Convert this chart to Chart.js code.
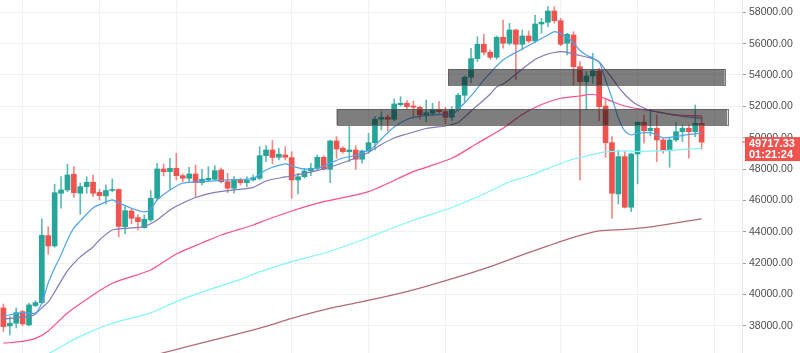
<!DOCTYPE html>
<html>
<head>
<meta charset="utf-8">
<script src="https://cdn.jsdelivr.net/npm/chart.js@4"></script>
<style>
  html, body { margin: 0; padding: 0; background: #ffffff; }
  #wrap { width: 800px; height: 353px; position: relative; }
</style>
</head>
<body>
<div id="wrap"><canvas id="c" width="800" height="353"></canvas></div>
<script>
// ---- DATA ----
const opens  = [39135,37987,38158,38899,38050,39282,39473,43748,43090,46453,46663,47665,46453,46874,47154,46516,46280,46631,46695,44322,45323,44896,44258,44749,46133,48003,47831,48047,47575,47409,47684,47129,47301,47346,47939,47193,46771,47301,47129,47301,47409,48851,49215,48749,48896,48724,47301,47512,47894,48047,48749,47984,49789,49324,49107,49215,48622,49151,49681,51174,51301,51174,52105,52195,52022,51939,51448,51556,51812,51659,51301,51812,52705,53853,55040,55959,55448,55129,56405,56022,56871,55959,56488,56169,57254,57362,58083,57464,56022,56552,54530,53573,53936,54255,52022,49681,46408,48788,45559,48960,50982,50446,50599,49853,49170,49853,50383,50599,50383,50918];
const highs  = [39390,38580,39135,38962,39434,39600,44813,44322,47027,47512,48303,48150,47091,47512,47620,46708,46982,47365,46727,45598,45495,45068,45068,46618,48366,48322,48685,49004,47684,48111,48258,47984,48150,48214,48067,47729,47512,47429,47512,47620,49426,49489,49821,49324,49426,49107,47729,48047,48366,48896,48851,49853,50064,49426,50746,49489,49215,50280,51340,51659,51448,52469,52616,52360,52341,52022,52405,52195,52297,51939,51978,52832,53936,55704,56444,56597,55595,56488,57509,57298,56916,56871,56807,57828,57617,58358,58358,57617,56660,56763,54849,54210,55384,54427,52405,50064,49215,49107,49004,51021,51448,51812,51448,49961,49961,50957,50810,50810,52086,51340];
const lows   = [37623,37412,37859,38005,37987,39218,39390,42561,43007,45495,46555,46197,45113,46453,46236,46025,45770,46535,43664,43856,44494,44111,44220,44641,46025,47556,46708,47301,47173,47129,46236,46982,47193,47301,47110,46491,46453,46982,46874,47237,47301,48469,48322,48577,48577,46133,46408,47409,47575,47939,47939,47129,48685,49004,48469,47984,48366,49004,49215,50491,50427,51085,52022,51812,51340,51174,51021,51448,51556,50874,51085,51703,52297,53509,54849,55276,55002,55002,55704,55914,53681,55595,56061,56061,56660,57082,57298,55869,55276,53362,47301,51767,53470,51085,48749,44857,45770,45515,45279,47046,49642,50108,48469,49004,48111,49744,49744,48685,50064,49260];
const closes = [37942,38158,38835,38114,39326,39473,43773,43090,46491,46663,47620,46491,46874,47154,46453,46299,46631,46695,44334,45342,44857,44641,44794,46133,48003,47831,48047,47575,47409,47684,47129,47346,47409,47894,47193,46771,47301,47129,47301,47448,48851,49215,48736,48941,48749,47301,47512,47875,48047,48749,47984,49789,49279,49107,49215,48622,49151,49681,51174,51301,51174,52150,52195,51978,51939,51448,51595,51812,51659,51301,51812,52705,53853,55040,55959,55448,55129,56405,56022,56871,55959,56488,56169,57254,57362,58083,57464,55959,56597,54530,53573,53936,54255,51978,49681,46453,48788,45559,48960,50982,50446,50599,49853,49170,49853,50383,50599,50383,50918,49717.33];

// moving averages: [candle number, value]
const maFast = [[1,38624],[4,38816],[6,38816],[7,39454],[8,40730],[9,41687],[10,42516],[11,43473],[12,44239],[13,44685],[15,45515],[17,45898],[18,46025],[19,45834],[21,45495],[23,45259],[24,45451],[25,46025],[27,46663],[29,47091],[32,47193],[36,47301],[40,47409],[42,47939],[45,48322],[46,48194],[48,48003],[50,48047],[52,48386],[54,48705],[56,48864],[58,49215],[59,49470],[60,49917],[62,50683],[64,51161],[66,51353],[68,51448],[70,51480],[71,51448],[72,51831],[73,52214],[74,52660],[75,53171],[76,53681],[77,54128],[78,54574],[79,54957],[80,55212],[82,55659],[84,56105],[86,56552],[87,56763],[88,56648],[89,56424],[90,56042],[91,55563],[92,55276],[93,55085],[94,54829],[95,53681],[96,52533],[97,51257],[98,50427],[99,50172],[100,50281],[102,50319],[103,50172],[104,49981],[106,50076],[108,50204],[110,50281]];
const maMid = [[1,38433],[5,38593],[6,38752],[7,39135],[8,39518],[9,40155],[11,41495],[13,42389],[15,43027],[16,43473],[18,44111],[21,44239],[23,44334],[25,44749],[27,45387],[29,45834],[31,46184],[34,46504],[37,46663],[40,46823],[42,47237],[45,47492],[48,47716],[51,48003],[53,48258],[56,48705],[58,49055],[60,49566],[62,49981],[64,50236],[67,50587],[70,50746],[71,50842],[72,50970],[73,51320],[74,51703],[75,52054],[76,52405],[77,52788],[78,53235],[79,53426],[80,53713],[82,54383],[84,54989],[86,55340],[87,55436],[88,55487],[89,55448],[90,55340],[91,55244],[92,55149],[93,55053],[94,54829],[95,54319],[96,53809],[97,53235],[98,52756],[99,52373],[100,52086],[102,51735],[104,51576],[106,51416],[108,51320],[110,51238]];
const ma50 = [[1,36883],[4,36998],[6,37189],[8,37667],[11,38816],[15,39964],[18,40711],[24,41559],[28,42580],[32,43282],[35,43792],[40,44430],[42,44749],[46,45323],[51,45917],[58,46555],[65,47831],[71,48685],[75,49642],[79,50600],[82,51480],[85,52118],[88,52514],[91,52660],[93,52769],[94,52660],[96,52309],[98,52022],[100,51850],[102,51722],[104,51576],[106,51461],[110,51384]];
const ma100 = [[8,36200],[11,36902],[14,37508],[18,38159],[24,38816],[28,39536],[33,40283],[38,40955],[41,41431],[46,42088],[51,42625],[57,43473],[64,44589],[71,45546],[76,46408],[80,47174],[83,47556],[86,48035],[89,48513],[92,48832],[95,49088],[98,49151],[100,49120],[103,49151],[106,49215],[110,49311]];
const ma200 = [[25,36168],[32,36902],[37,37412],[42,37955],[46,38465],[51,39007],[57,39537],[64,40175],[72,41112],[77,41769],[82,42516],[86,43091],[90,43633],[94,44047],[98,44143],[102,44302],[106,44558],[110,44813]];

// grey zones: [from candle, to candle, low price, high price]
const zones = [[70.4, 113.6, 53362, 54383],[53.0, 114.0, 50810, 51831]];
// vertical grid positions (candle numbers)
const timeGrid = [4,16,28,46,58,70,88,100,112];
const priceTicks = [38000,40000,42000,44000,46000,48000,50000,52000,54000,56000,58000];
const lastPriceText = '49717.33';
const countdownText = '01:21:24';

// ---- CHART ----
const UP = '#26a69a', DOWN = '#ef5350';
const UPW = 'rgba(38,166,154,0.75)', DOWNW = 'rgba(239,83,80,0.7)';
const n = closes.length;
const idx = Array.from({length: n}, (_, i) => i + 1);
const isUp = i => closes[i] >= opens[i];

const wickData = idx.map((k, i) => ({x: k, y: [lows[i], highs[i]]}));
const bodyData = idx.map((k, i) => ({x: k, y: [opens[i], closes[i]]}));
const toXY = arr => arr.map(p => ({x: p[0], y: p[1]}));

const zonePlugin = {
  id: 'zones',
  afterDatasetsDraw(chart) {
    const {ctx, chartArea, scales: {x, y}} = chart;
    ctx.save();
    ctx.beginPath();
    ctx.rect(chartArea.left, chartArea.top, chartArea.right - chartArea.left, chartArea.bottom - chartArea.top);
    ctx.clip();
    zones.forEach(z => {
      const x1 = x.getPixelForValue(z[0]), x2 = x.getPixelForValue(z[1]);
      const y1 = y.getPixelForValue(z[3]), y2 = y.getPixelForValue(z[2]);
      ctx.fillStyle = 'rgba(20,20,20,0.55)';
      ctx.fillRect(x1, y1, x2 - x1, y2 - y1);
      ctx.strokeStyle = 'rgba(90,90,90,0.8)';
      ctx.lineWidth = 1;
      ctx.strokeRect(Math.round(x1) + 0.5, Math.round(y1) + 0.5, Math.round(x2 - x1), Math.round(y2 - y1));
    });
    ctx.restore();
  }
};

const priceLabelPlugin = {
  id: 'priceLabel',
  afterDraw(chart) {
    const {ctx, chartArea, scales: {y}} = chart;
    const py = y.getPixelForValue(closes[n - 1]);
    const left = chartArea.right + 3;
    ctx.save();
    ctx.fillStyle = DOWN;
    ctx.fillRect(left, py - 5, 800 - left, 24);
    ctx.fillRect(chartArea.right, Math.round(py) - 0.5, 4, 1);
    ctx.fillStyle = '#ffffff';
    ctx.font = 'bold 11px "Liberation Sans", Arial, sans-serif';
    ctx.textAlign = 'left';
    ctx.textBaseline = 'middle';
    ctx.fillText(lastPriceText, left + 4, py + 2);
    ctx.fillText(countdownText, left + 4, py + 13);
    ctx.restore();
  }
};

new Chart(document.getElementById('c'), {
  type: 'bar',
  data: {
    datasets: [
      {type: 'line', label: 'MA fast', data: toXY(maFast), borderColor: '#4ea3ee', borderWidth: 1.2, pointRadius: 0, tension: 0.25, order: 0},
      {type: 'line', label: 'MA mid', data: toXY(maMid), borderColor: '#7f7bb8', borderWidth: 1.2, pointRadius: 0, tension: 0.25, order: 0},
      {type: 'line', label: 'MA 50', data: toXY(ma50), borderColor: '#ff4d8d', borderWidth: 1.2, pointRadius: 0, tension: 0.25, order: 0},
      {type: 'line', label: 'MA 100', data: toXY(ma100), borderColor: '#7ff5fb', borderWidth: 1.2, pointRadius: 0, tension: 0.25, order: 0},
      {type: 'line', label: 'MA 200', data: toXY(ma200), borderColor: '#b26a73', borderWidth: 1.2, pointRadius: 0, tension: 0.25, order: 0},
      {label: 'bodies', data: bodyData, barThickness: 5, minBarLength: 1, grouped: false, order: 1,
       backgroundColor: ctx => isUp(ctx.dataIndex) ? UP : DOWN},
      {label: 'wicks', data: wickData, barThickness: 1, grouped: false, order: 2,
       backgroundColor: ctx => isUp(ctx.dataIndex) ? UPW : DOWNW}
    ]
  },
  options: {
    responsive: false,
    animation: false,
    events: [],
    layout: {padding: 0},
    plugins: {legend: {display: false}, tooltip: {enabled: false}},
    scales: {
      x: {
        type: 'linear', min: 0.47, max: 116.3, offset: false,
        grid: {color: '#f1f1f1', drawTicks: false, offset: false},
        border: {display: false},
        ticks: {display: false},
        afterBuildTicks: s => { s.ticks = timeGrid.map(v => ({value: v})); },
        afterFit: s => { s.height = 0; s.paddingLeft = 0; s.paddingRight = 0; }
      },
      y: {
        position: 'right', min: 36258, max: 58785,
        grid: {color: '#f1f1f1', tickColor: '#9a9a9a', tickLength: 4},
        border: {display: true, color: '#e6e6e6'},
        ticks: {
          color: '#4d4d4d', padding: 3,
          font: {family: '"Liberation Sans", Arial, sans-serif', size: 10.5},
          callback: v => v.toFixed(2)
        },
        afterBuildTicks: s => { s.ticks = priceTicks.map(v => ({value: v})); },
        afterFit: s => { s.width = 58; s.paddingTop = 0; s.paddingBottom = 0; }
      }
    }
  },
  plugins: [zonePlugin, priceLabelPlugin]
});
</script>
</body>
</html>
